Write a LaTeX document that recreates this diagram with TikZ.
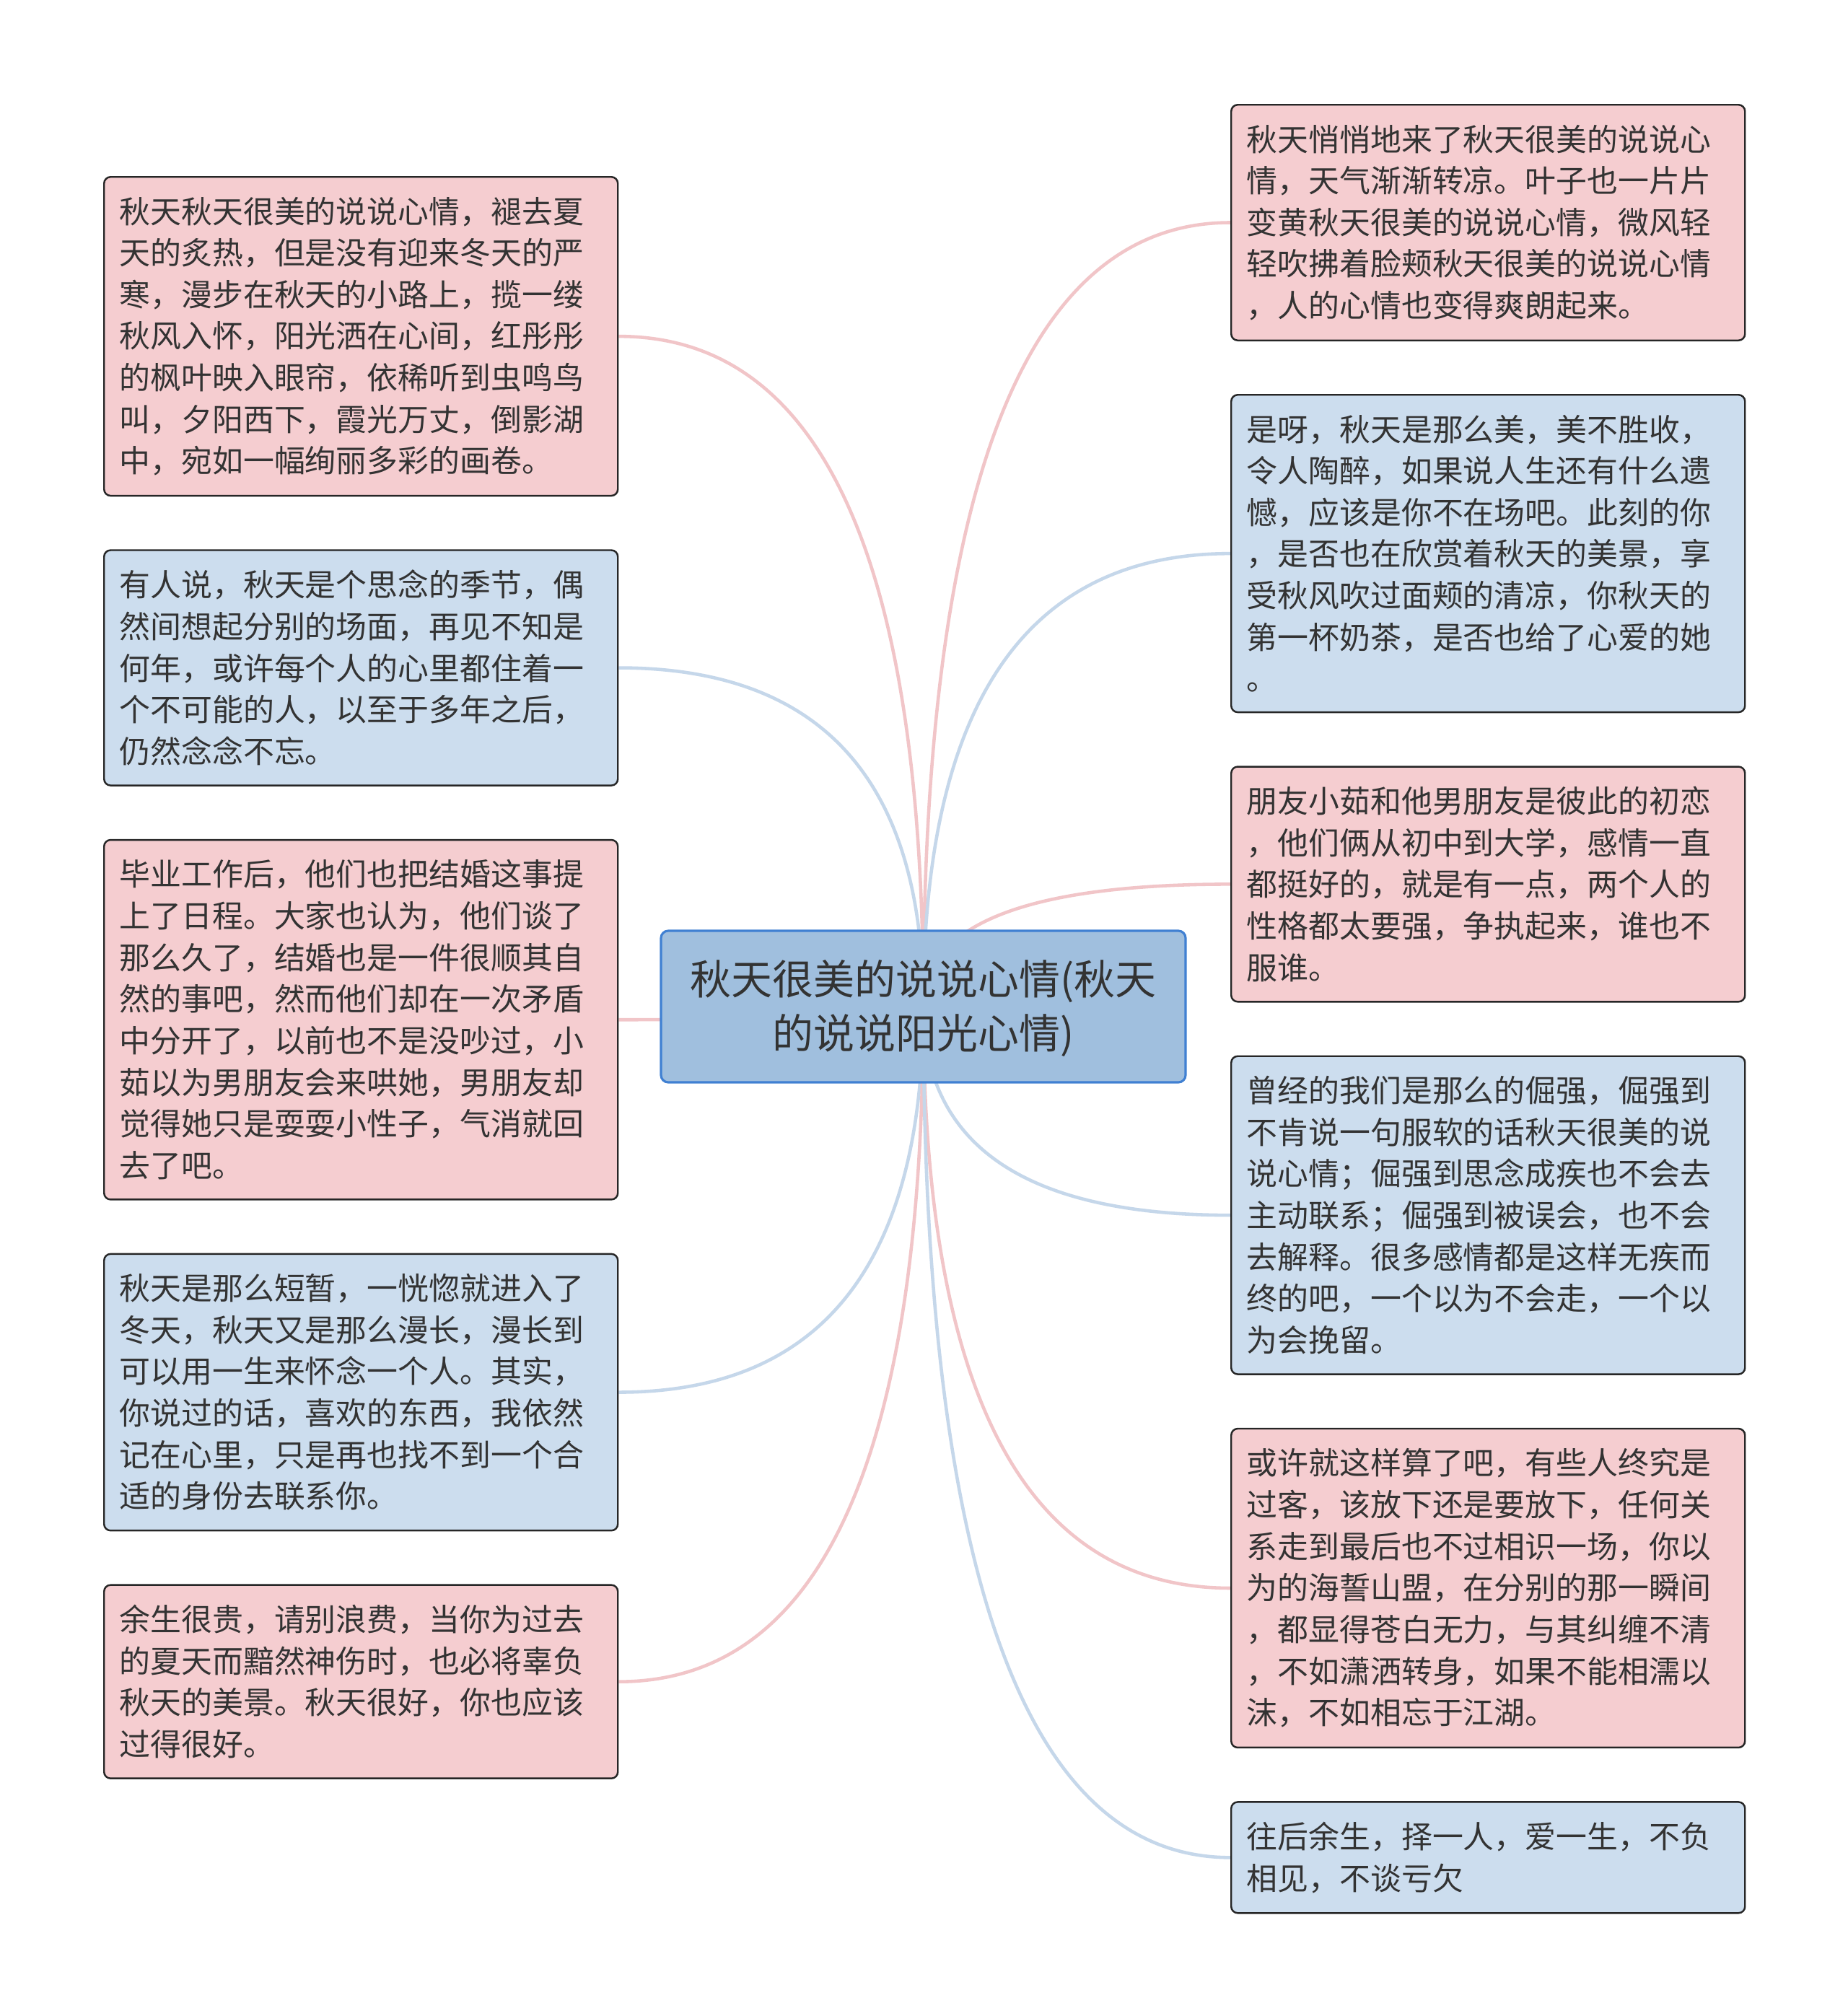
\documentclass[tikz,border=0pt]{standalone}
\usepackage{fontspec}
\newfontfamily\cjk{Noto Sans CJK SC}
\usepackage{tikz}
\usetikzlibrary{positioning,calc,backgrounds}
\definecolor{leafpink}{RGB}{245,205,208}
\definecolor{leafblue}{RGB}{204,221,238}
\definecolor{topicblue}{RGB}{160,191,222}
\definecolor{topicedge}{RGB}{64,128,210}
\definecolor{linkpink}{RGB}{241,197,200}
\definecolor{linkblue}{RGB}{197,215,234}
\definecolor{inkgray}{RGB}{51,51,51}

\begin{document}
\begin{tikzpicture}[
    node distance=0.73cm,
    leaf/.style={rectangle, rounded corners=0.09cm, draw=black!85, line width=0.7pt,
                 text width=6.69cm, inner xsep=0.215cm, inner ysep=0.276cm, align=left,
                 font=\cjk\fontsize{12.2pt}{16.4pt}\selectfont, text=inkgray},
    pinkleaf/.style={leaf, fill=leafpink},
    blueleaf/.style={leaf, fill=leafblue},
    topic/.style={rectangle, rounded corners=0.1cm, draw=topicedge, line width=0.9pt,
                  fill=topicblue, minimum width=7.27cm, minimum height=2.10cm, align=center,
                  font=\cjk\fontsize{16.2pt}{21.3pt}\selectfont, text=inkgray},
    branch/.style={line width=1.3pt, to path={.. controls
        ($(\tikztostart)!0.667!(\tikztostart |- \tikztotarget)$) and
        ($(\tikztotarget)!0.667!(\tikztostart |- \tikztotarget)$) .. (\tikztotarget)}}
  ]
    \useasboundingbox (0,0) rectangle (25.6,-27.94);

    \node[topic] (topic) at (12.795,-13.95) {\raisebox{-0.06cm}[\height][\depth]{\begin{tabular}{@{}c@{}}秋天很美的说说心情(秋天\\的说说阳光心情)\end{tabular}}};

    % left column
    \node[pinkleaf, anchor=north west] (l1) at (1.43,-2.44) {秋天秋天很美的说说心情，褪去夏\\天的炙热，但是没有迎来冬天的严\\寒，漫步在秋天的小路上，揽一缕\\秋风入怀，阳光洒在心间，红彤彤\\的枫叶映入眼帘，依稀听到虫鸣鸟\\叫，夕阳西下，霞光万丈，倒影湖\\中，宛如一幅绚丽多彩的画卷。};
    \node[blueleaf, below=of l1] (l2) {有人说，秋天是个思念的季节，偶\\然间想起分别的场面，再见不知是\\何年，或许每个人的心里都住着一\\个不可能的人，以至于多年之后，\\仍然念念不忘。};
    \node[pinkleaf, below=of l2] (l3) {毕业工作后，他们也把结婚这事提\\上了日程。大家也认为，他们谈了\\那么久了，结婚也是一件很顺其自\\然的事吧，然而他们却在一次矛盾\\中分开了，以前也不是没吵过，小\\茹以为男朋友会来哄她，男朋友却\\觉得她只是耍耍小性子，气消就回\\去了吧。};
    \node[blueleaf, below=of l3] (l4) {秋天是那么短暂，一恍惚就进入了\\冬天，秋天又是那么漫长，漫长到\\可以用一生来怀念一个人。其实，\\你说过的话，喜欢的东西，我依然\\记在心里，只是再也找不到一个合\\适的身份去联系你。};
    \node[pinkleaf, below=of l4] (l5) {余生很贵，请别浪费，当你为过去\\的夏天而黯然神伤时，也必将辜负\\秋天的美景。秋天很好，你也应该\\过得很好。};

    % right column
    \node[pinkleaf, anchor=north west] (r1) at (17.05,-1.44) {秋天悄悄地来了秋天很美的说说心\\情，天气渐渐转凉。叶子也一片片\\变黄秋天很美的说说心情，微风轻\\轻吹拂着脸颊秋天很美的说说心情\\，人的心情也变得爽朗起来。};
    \node[blueleaf, below=of r1] (r2) {是呀，秋天是那么美，美不胜收，\\令人陶醉，如果说人生还有什么遗\\憾，应该是你不在场吧。此刻的你\\，是否也在欣赏着秋天的美景，享\\受秋风吹过面颊的清凉，你秋天的\\第一杯奶茶，是否也给了心爱的她\\。};
    \node[pinkleaf, below=of r2] (r3) {朋友小茹和他男朋友是彼此的初恋\\，他们俩从初中到大学，感情一直\\都挺好的，就是有一点，两个人的\\性格都太要强，争执起来，谁也不\\服谁。};
    \node[blueleaf, below=of r3] (r4) {曾经的我们是那么的倔强，倔强到\\不肯说一句服软的话秋天很美的说\\说心情；倔强到思念成疾也不会去\\主动联系；倔强到被误会，也不会\\去解释。很多感情都是这样无疾而\\终的吧，一个以为不会走，一个以\\为会挽留。};
    \node[pinkleaf, below=of r4] (r5) {或许就这样算了吧，有些人终究是\\过客，该放下还是要放下，任何关\\系走到最后也不过相识一场，你以\\为的海誓山盟，在分别的那一瞬间\\，都显得苍白无力，与其纠缠不清\\，不如潇洒转身，如果不能相濡以\\沫，不如相忘于江湖。};
    \node[blueleaf, below=of r5] (r6) {往后余生，择一人，爱一生，不负\\相见，不谈亏欠};

    \begin{pgfonlayer}{background}
      \fill[white] (0,0) rectangle (25.6,-27.94);
      \draw[branch, linkpink] (topic.center) to (l1.east);
      \draw[branch, linkblue] (topic.center) to (l2.east);
      \draw[branch, linkpink] (topic.center) to (l3.east);
      \draw[branch, linkblue] (topic.center) to (l4.east);
      \draw[branch, linkpink] (topic.center) to (l5.east);
      \draw[branch, linkpink] (topic.center) to (r1.west);
      \draw[branch, linkblue] (topic.center) to (r2.west);
      \draw[branch, linkpink] (topic.center) to (r3.west);
      \draw[branch, linkblue] (topic.center) to (r4.west);
      \draw[branch, linkpink] (topic.center) to (r5.west);
      \draw[branch, linkblue] (topic.center) to (r6.west);
    \end{pgfonlayer}
  \end{tikzpicture}
\end{document}
